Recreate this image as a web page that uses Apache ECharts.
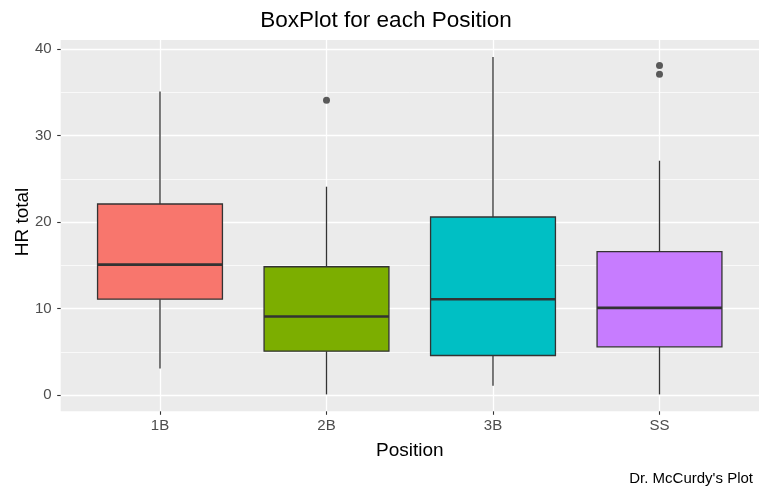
<!DOCTYPE html>
<html>
<head>
<meta charset="utf-8">
<script src="https://cdn.jsdelivr.net/npm/echarts@6/dist/echarts.min.js"></script>
<style>
html,body{margin:0;padding:0;background:#fff;}
#chart{width:762px;height:489px;}
</style>
</head>
<body>
<div id="chart"></div>
<script>
// ---- data ----
var categories = ['1B', '2B', '3B', 'SS'];
var lowerWhisker = [3, 0, 1, 0];
var q1 = [11, 5, 4.5, 5.5];
var median = [15, 9, 11, 10];
var q3 = [22, 14.75, 20.5, 16.5];
var upperWhisker = [35, 24, 39, 27];
var outliers = [['2B', 34], ['SS', 37], ['SS', 38]];
var fillColors = ['#F8766D', '#7CAE00', '#00BFC4', '#C77CFF'];

var FONT = '"Liberation Sans", Arial, sans-serif';

var boxData = categories.map(function (c, i) {
  return [i, lowerWhisker[i], q1[i], median[i], q3[i], upperWhisker[i]];
});

var chart = echarts.init(document.getElementById('chart'), null, {renderer: 'canvas'});

var option = {
  backgroundColor: '#ffffff',
  animation: false,
  textStyle: {fontFamily: FONT},
  title: [
    {
      text: 'BoxPlot for each Position',
      left: 381, top: 4, textAlign: 'center',
      textStyle: {fontFamily: FONT, fontSize: 22.5, fontWeight: 'normal', color: '#000'}
    },
    {
      text: "Dr. McCurdy's Plot",
      right: 4, top: 466,
      textStyle: {fontFamily: FONT, fontSize: 15, fontWeight: 'normal', color: '#000'}
    }
  ],
  grid: [
    {left: 60.7, right: 3, top: 40, bottom: 77.7, show: true, backgroundColor: '#EBEBEB', borderWidth: 0, containLabel: false},
    {left: 60.7, right: 3, top: 49, bottom: 94, show: false, containLabel: false},
    {left: 160, right: 102.5, top: 40, bottom: 77.7, show: false, containLabel: false}
  ],
  xAxis: [
    {gridIndex: 0, type: 'value', show: false, min: 0, max: 1},
    {gridIndex: 1, type: 'value', show: false, min: 0, max: 1},
    {
      gridIndex: 2, type: 'category', data: categories, boundaryGap: false,
      axisLine: {show: false, onZero: false},
      axisTick: {show: true, length: 3.5, lineStyle: {color: '#333333', width: 1.1}},
      axisLabel: {color: '#4D4D4D', fontSize: 15, fontFamily: FONT, margin: 7},
      splitLine: {show: true, lineStyle: {color: '#ffffff', width: 1.3}},
      name: 'Position', nameLocation: 'middle', nameGap: 30,
      nameTextStyle: {color: '#000', fontSize: 19, fontFamily: FONT}
    }
  ],
  yAxis: [
    {gridIndex: 0, type: 'value', show: false, min: 0, max: 1},
    {
      gridIndex: 1, type: 'value', min: 0, max: 40, interval: 10,
      axisLine: {show: false, onZero: false},
      axisTick: {show: true, length: 3.5, lineStyle: {color: '#333333', width: 1.1}},
      axisLabel: {color: '#4D4D4D', fontSize: 15, fontFamily: FONT, margin: 9},
      splitLine: {show: true, lineStyle: {color: '#ffffff', width: 1.3}},
      minorTick: {show: false, splitNumber: 2},
      minorSplitLine: {show: true, lineStyle: {color: '#ffffff', width: 0.7}},
      name: 'HR total', nameLocation: 'middle', nameGap: 28, nameRotate: 90,
      nameMoveOverlap: false,
      nameTextStyle: {color: '#000', fontSize: 19, fontFamily: FONT}
    },
    {gridIndex: 2, type: 'value', show: false, min: -1.95, max: 40.95}
  ],
  series: [
    {
      type: 'custom',
      xAxisIndex: 2, yAxisIndex: 2,
      clip: false,
      data: boxData,
      encode: {x: 0, y: [1, 2, 3, 4, 5]},
      renderItem: function (params, api) {
        var idx = api.value(0);
        var lw = api.coord([idx, api.value(1)]);
        var b1 = api.coord([idx, api.value(2)]);
        var md = api.coord([idx, api.value(3)]);
        var b3 = api.coord([idx, api.value(4)]);
        var uw = api.coord([idx, api.value(5)]);
        var half = api.size([1, 0])[0] * 0.375;
        var x = lw[0];
        var stroke = '#333333';
        return {
          type: 'group',
          children: [
            {type: 'line', shape: {x1: x, y1: uw[1], x2: x, y2: b3[1]}, style: {stroke: stroke, lineWidth: 1.3}},
            {type: 'line', shape: {x1: x, y1: b1[1], x2: x, y2: lw[1]}, style: {stroke: stroke, lineWidth: 1.3}},
            {type: 'rect', shape: {x: x - half, y: b3[1], width: half * 2, height: b1[1] - b3[1]},
              style: {fill: fillColors[params.dataIndex], stroke: stroke, lineWidth: 1.3}},
            {type: 'line', shape: {x1: x - half, y1: md[1], x2: x + half, y2: md[1]}, style: {stroke: stroke, lineWidth: 2.6}}
          ]
        };
      }
    },
    {
      type: 'scatter',
      xAxisIndex: 2, yAxisIndex: 2,
      data: outliers,
      symbol: 'circle', symbolSize: 7,
      itemStyle: {color: '#333333'},
      clip: false
    }
  ]
};
chart.setOption(option);
</script>
</body>
</html>
